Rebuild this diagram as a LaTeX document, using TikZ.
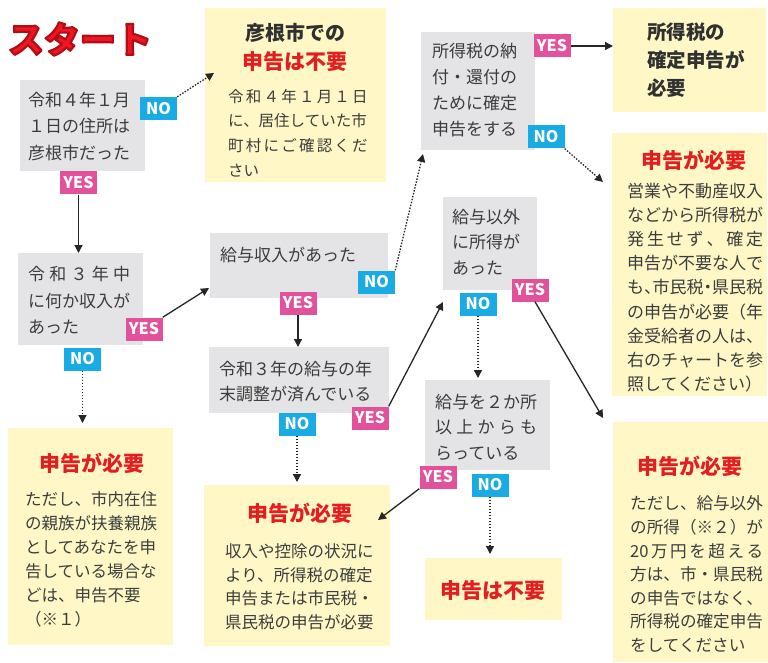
\documentclass[tikz,border=0pt]{standalone}
\usepackage{fontspec}
\setmainfont{Noto Sans CJK JP}
\usetikzlibrary{arrows.meta}
\definecolor{qgray}{HTML}{E4E4E6}
\definecolor{ansyellow}{HTML}{FFF8C6}
\definecolor{yespink}{HTML}{E4519B}
\definecolor{noblue}{HTML}{19ABE3}
\definecolor{titlered}{HTML}{E41E20}
\definecolor{bodytext}{HTML}{3C3C3C}
\definecolor{startred}{HTML}{EE1620}
\definecolor{arrowc}{HTML}{262626}
\makeatletter
\newcommand\spreadjp[2]{\hbox to #1{\def\spreadjp@sep{}\@tfor\spreadjp@c:=#2\do{\spreadjp@sep\spreadjp@c\def\spreadjp@sep{\hfill}}}}
\makeatother
\tikzset{
  gbox/.style={fill=qgray, inner sep=0pt, anchor=north west, rectangle},
  ybox/.style={fill=ansyellow, inner sep=0pt, anchor=north west, rectangle},
  lab/.style={inner sep=0pt, minimum width=37pt, minimum height=23pt, text=white, font=\bfseries\fontsize{16}{16}\selectfont},
  yeslab/.style={lab, fill=yespink},
  nolab/.style={lab, fill=noblue},
  qtext/.style={anchor=north west, inner sep=0pt, align=left, text=bodytext, font=\fontsize{17}{26.5}\selectfont},
  btext/.style={anchor=north west, inner sep=0pt, align=left, text=bodytext},
  redtitle/.style={text=titlered, font=\bfseries\fontsize{21}{21}\selectfont, inner sep=0pt},
  blacktitle/.style={text=bodytext!80!black, font=\bfseries\fontsize{20}{20}\selectfont, inner sep=0pt},
  arr/.style={draw=arrowc, line width=1.3pt, -{Triangle[length=8pt,width=8pt]}},
  darr/.style={arr, dash pattern=on 1.5pt off 1.5pt},
}
\begin{document}
\begin{tikzpicture}[x=1pt,y=-1pt]
\useasboundingbox (0,0) rectangle (768,663);

% title
\node[font=\bfseries\fontsize{36}{36}\selectfont, text=startred, inner sep=0pt] (title) at (80,39)
  {\special{pdf:literal direct 2 Tr 1 j 2.2 w 0.7 0.05 0.09 RG}スタート\special{pdf:literal direct 0 Tr}};

% boxes
\node[gbox, minimum width=125pt, minimum height=91pt] (q1) at (20,80) {};
\node[gbox, minimum width=125pt, minimum height=92pt] (q2) at (18,253) {};
\node[ybox, minimum width=165pt, minimum height=217pt] (y2) at (8,428) {};
\node[ybox, minimum width=181pt, minimum height=174pt] (y1) at (205,8) {};
\node[gbox, minimum width=178pt, minimum height=65pt] (q3) at (210,233) {};
\node[gbox, minimum width=180pt, minimum height=66pt] (q4) at (209,347) {};
\node[ybox, minimum width=186pt, minimum height=161pt] (y3) at (204,485) {};
\node[gbox, minimum width=114pt, minimum height=118pt] (q5) at (421,32) {};
\node[ybox, minimum width=153pt, minimum height=104pt] (y4) at (613,8) {};
\node[ybox, minimum width=155pt, minimum height=263pt] (y5) at (612,133) {};
\node[gbox, minimum width=94pt, minimum height=93pt] (q6) at (443,197) {};
\node[gbox, minimum width=125pt, minimum height=90pt] (q7) at (425,380) {};
\node[ybox, minimum width=137pt, minimum height=62pt] (y6) at (425,558) {};
\node[ybox, minimum width=155pt, minimum height=240pt] (y7) at (613,422) {};

% question texts
\node[qtext] (q1t) at (28,91.5) {令和４年１月\\１日の住所は\\彦根市だった};
\node[qtext] (q2t) at (28,266) {\spreadjp{102pt}{令和３年中}\\に何か収入が\\あった};
\node[qtext] (q3t) at (220,246.5) {給与収入があった};
\node[qtext, font=\fontsize{17}{25.5}\selectfont] (q4t) at (219,360.5) {令和３年の給与の年\\末調整が済んでいる};
\node[qtext, font=\fontsize{17}{26}\selectfont] (q5t) at (432,43.5) {所得税の納\\付・還付の\\ために確定\\申告をする};
\node[qtext, font=\fontsize{17}{25.5}\selectfont] (q6t) at (452,208.5) {給与以外\\に所得が\\あった};
\node[qtext, font=\fontsize{17}{25.5}\selectfont] (q7t) at (435,393.5) {給与を２か所\\\spreadjp{102pt}{以上からも}\\らっている};

% answer texts
\node[blacktitle] (y1h) at (295,33) {彦根市での};
\node[redtitle] (y1r) at (295,62) {申告は不要};
\node[btext, font=\fontsize{15.5}{24.7}\selectfont] (y1t) at (228,89)
  {\spreadjp{139.5pt}{令和４年１月１日}\\に、居住していた市\\\spreadjp{139.5pt}{町村にご確認くだ}\\さい};

\node[redtitle] (y2r) at (92,463) {申告が必要};
\node[btext, font=\fontsize{16.5}{24}\selectfont] (y2t) at (25,491.75)
  {ただし、市内在住\\の親族が扶養親族\\としてあなたを申\\告している場合な\\どは、申告不要\\（※１）};

\node[redtitle] (y3r) at (300,513) {申告が必要};
\node[btext, font=\fontsize{16.5}{23.5}\selectfont] (y3t) at (225,543.75)
  {収入や控除の状況に\\より、所得税の確定\\申告または市民税・\\県民税の申告が必要};

\node[btext, font=\bfseries\fontsize{19.5}{28}\selectfont, text=bodytext!80!black] (y4t) at (647,23)
  {所得税の\\確定申告が\\必要};

\node[redtitle] (y5r) at (694,160) {申告が必要};
\node[btext, font=\fontsize{17}{24.2}\selectfont] (y5t) at (627,182.5)
  {営業や不動産収入\\などから所得税が\\\spreadjp{136pt}{発生せず、確定}\\申告が不要な人で\\も\makebox[8.5pt][l]{、}市民税\makebox[8.5pt][c]{・}県民税\\の申告が必要（年\\金受給者の人は、\\右のチャートを参\\照してください）};

\node[redtitle] (y6r) at (493,591) {申告は不要};

\node[redtitle] (y7r) at (690,466) {申告が必要};
\node[btext, font=\fontsize{16.6}{23.6}\selectfont] (y7t) at (630,495.7)
  {ただし、給与以外\\の所得（※２）が\\\spreadjp{133pt}{{20}万円を超える}\\方は、市・県民税\\の申告ではなく、\\所得税の確定申告\\をしてください};

% labels
\node[nolab] (q1no) at (158.5,108.5) {NO};
\node[yeslab] (q1yes) at (78.5,183) {YES};
\node[yeslab] (q2yes) at (144,329) {YES};
\node[nolab] (q2no) at (82.5,359) {NO};
\node[nolab] (q3no) at (376.5,282) {NO};
\node[yeslab] (q3yes) at (298,303) {YES};
\node[nolab] (q4no) at (297,424) {NO};
\node[yeslab] (q4yes) at (370,418) {YES};
\node[yeslab] (q5yes) at (552,46) {YES};
\node[nolab] (q5no) at (546,137) {NO};
\node[nolab] (q6no) at (478,304) {NO};
\node[yeslab] (q6yes) at (530,290) {YES};
\node[yeslab] (q7yes) at (438,477) {YES};
\node[nolab] (q7no) at (490,485) {NO};

% connector end points
\coordinate (y1in) at (214,73);
\coordinate (q3in) at (209,288);
\coordinate (q5in) at (423,154);
\coordinate (q6in) at (443,302);
\coordinate (y5in) at (603,182);
\coordinate (y7in) at (603,418);
\coordinate (y3in) at (378,520);

% connectors
\draw[darr] (q1no.north east) -- (y1in);
\draw[arr] (q1yes.south) -- (q1yes.south |- q2.north);
\draw[arr] (q2yes.north east) -- (q3in);
\draw[darr, shorten >=5pt] (q2no.south) -- (q2no.south |- y2.north);
\draw[arr] (q3yes.south) -- (q3yes.south |- q4.north);
\draw[darr] (q3no.north east) -- (q5in);
\draw[darr, shorten >=3pt] (q4no.south) -- (q4no.south |- y3.north);
\draw[arr] (q4yes.north east) -- (q6in);
\draw[arr] (q5yes.east) -- (y4.west |- q5yes.east);
\draw[darr] (q5no.south east) -- (y5in);
\draw[darr, shorten >=2pt] (q6no.south) -- (q6no.south |- q7.north);
\draw[arr] ([xshift=5pt]q6yes.south) -- (y7in);
\draw[arr] (q7yes.south west) -- (y3in);
\draw[darr, shorten >=4pt] (q7no.south) -- (q7no.south |- y6.north);
\end{tikzpicture}
\end{document}
